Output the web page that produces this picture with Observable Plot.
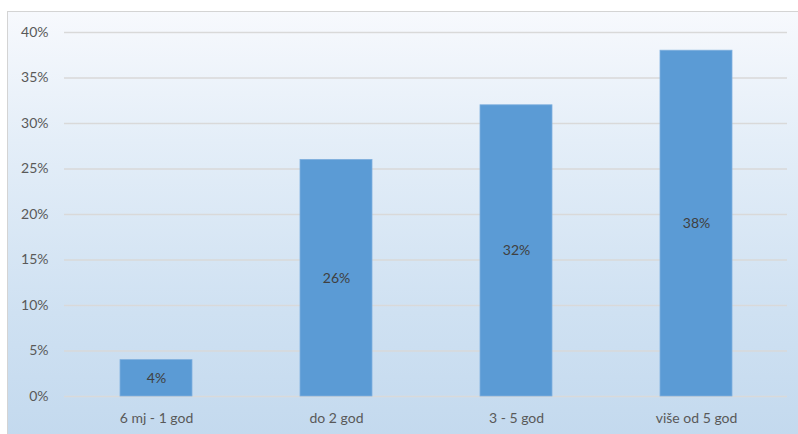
<!DOCTYPE html>
<html>
<head>
<meta charset="utf-8">
<script src="https://cdn.jsdelivr.net/npm/d3@7"></script>
<script src="https://cdn.jsdelivr.net/npm/@observablehq/plot@0.6"></script>
<style>
  html, body { margin: 0; padding: 0; background: #ffffff; }
  #wrap { position: relative; width: 798px; height: 434px; overflow: hidden; }
  #bg { position: absolute; left: 7px; top: 11px; width: 800px; height: 430px;
        border: 1px solid #d4d4d4;
        background: linear-gradient(to bottom, #f7f9fd 0%, #e4eef8 30%, #cfe1f2 70%, #c3d9ee 100%); }
  #chart { position: absolute; left: 0; top: 0; }
</style>
</head>
<body>
<div id="wrap"><div id="bg"></div><div id="chart"></div></div>
<script>
const categories = ["6 mj - 1 god", "do 2 god", "3 - 5 god", "više od 5 god"];
const values = [4, 26, 32, 38];
const yTicks = [0, 5, 10, 15, 20, 25, 30, 35, 40];

const data = categories.map((c, i) => ({category: c, value: values[i]}));
const font = "Lato, 'Open Sans', sans-serif";

const chart = Plot.plot({
  width: 798,
  height: 434,
  marginLeft: 64,
  marginRight: 11,
  marginTop: 32,
  marginBottom: 38,
  style: {background: "transparent", fontFamily: font, fontSize: "14px", color: "#595959"},
  x: {domain: categories, paddingInner: 0.6, paddingOuter: 0.3, label: null},
  y: {domain: [0, 40], label: null},
  marks: [
    Plot.gridY(yTicks, {stroke: "#d9d9d9", strokeOpacity: 1, strokeWidth: 1.5}),
    Plot.axisY(yTicks, {tickSize: 0, tickPadding: 16, tickFormat: d => d + "%", fill: "#595959", fontSize: 14, label: null}),
    Plot.axisX({tickSize: 0, tickPadding: 17, fill: "#595959", fontSize: 14, label: null}),
    Plot.barY(data, {x: "category", y: "value", fill: "#5b9bd5", stroke: "#7fb0de", strokeWidth: 0.8}),
    Plot.text(data, {x: "category", y: d => d.value / 2, text: d => d.value + "%", fill: "#404040", fontSize: 14})
  ]
});
document.getElementById("chart").appendChild(chart);
</script>
</body>
</html>
